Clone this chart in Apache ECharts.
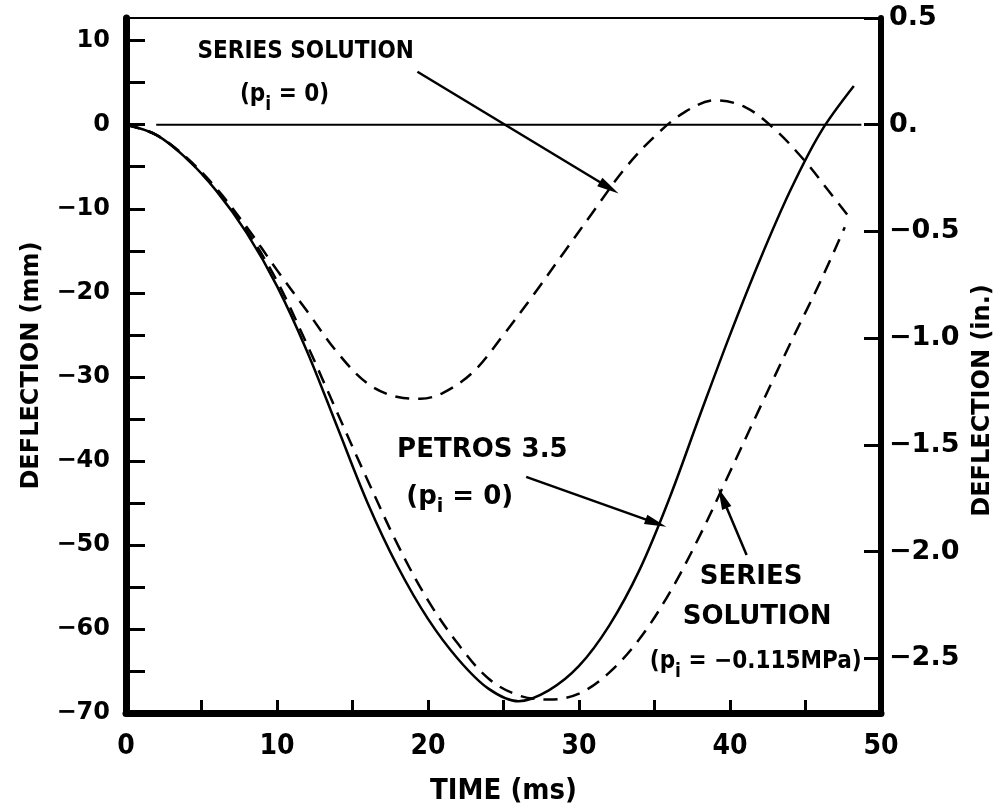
<!DOCTYPE html>
<html>
<head>
<meta charset="utf-8">
<script src="https://cdn.jsdelivr.net/npm/echarts@6/dist/echarts.min.js"></script>
<style>
  html, body { margin: 0; padding: 0; background: #fff; }
  #chart { width: 993px; height: 810px; }
</style>
</head>
<body>
<div id="chart"></div>
<script>
// values: time in ms, deflection in mm
const petrosTime = [0, 2, 4, 6, 8, 10, 12, 14, 16, 18, 20, 22, 24, 26, 28, 30, 32, 34, 36, 38, 40, 42, 44, 46, 48.2];
const petrosDefl = [0, -1.2, -4.0, -7.9, -12.9, -19.2, -27.0, -36.0, -45.0, -52.6, -58.8, -63.6, -67.1, -68.6, -67.3, -64.4, -59.6, -53.0, -44.4, -34.6, -25.0, -16.0, -7.8, -0.9, 4.6];

const seriesZeroTime = [0, 2, 4, 6, 8, 10, 12, 14, 16, 18, 19.5, 21, 23, 25, 27, 29, 31, 33, 35, 37, 39, 41, 43, 45, 46.5, 47.9];
const seriesZeroDefl = [0, -1.2, -3.9, -7.6, -12.2, -17.3, -22.2, -27.1, -30.8, -32.4, -32.6, -31.9, -29.4, -25.0, -20.2, -15.2, -10.2, -5.3, -1.4, 1.5, 2.9, 2.1, -0.6, -4.4, -7.8, -11.0];

const seriesNegTime = [0, 2, 4, 6, 8, 10, 12, 14, 16, 18, 20, 22, 24, 26, 28, 30, 32, 34, 36, 38, 40, 42, 44, 46, 47.6];
const seriesNegDefl = [0, -1.2, -4.0, -7.8, -12.6, -18.6, -26.2, -34.3, -42.3, -50.0, -56.6, -61.8, -65.9, -67.9, -68.4, -67.7, -65.2, -61.2, -55.7, -48.9, -41.3, -33.6, -26.0, -18.6, -12.2];

const zeroLineTime = [2.0, 48.7];
const zeroLineDefl = [0, 0];

// tick labels
const timeTicks = [0, 5, 10, 15, 20, 25, 30, 35, 40, 45, 50];
const timeLabels = [0, 10, 20, 30, 40, 50];
const mmTicks = [-70, -65, -60, -55, -50, -45, -40, -35, -30, -25, -20, -15, -10, -5, 0, 5, 10];
const mmLabels = [-70, -60, -50, -40, -30, -20, -10, 0, 10];
const inchLabels = [-2.5, -2.0, -1.5, -1.0, -0.5, 0, 0.5];

const MM_PER_INCH = 25.4;
const yMin = -70;
const yMax = 0.5 * MM_PER_INCH;

const zip = (xs, ys) => xs.map((x, i) => [x, ys[i]]);
const minus = s => String(s).replace('-', '\u2212');

const dash = [14, 9];

// arrows: [from, to] in data coordinates
const arrows = [
  [[19.3, 6.3], [32.0, -7.5]],
  [[26.5, -41.9], [35.1, -47.4]],
  [[41.1, -51.2], [39.5, -44.4]]
];

// text notes in data coordinates
const notes = [
  { t: 11.9, v: 8.7, text: 'SERIES SOLUTION', condensed: true },
  { t: 10.5, v: 3.6, text: '(p{s|i} = 0)', condensed: true },
  { t: 23.6, v: -38.7, text: 'PETROS 3.5' },
  { t: 22.1, v: -44.3, text: '(p{s|i} = 0)' },
  { t: 41.4, v: -53.9, text: 'SERIES' },
  { t: 41.8, v: -58.6, text: 'SOLUTION' },
  { t: 41.7, v: -63.9, text: '(p{s|i} = \u22120.115MPa)', condensed: true }
];

const chart = echarts.init(document.getElementById('chart'));

const option = {
  animation: false,
  backgroundColor: '#fff',
  grid: {
    left: 126, right: 112, top: 18, bottom: 97,
    outerBoundsMode: 'none', containLabel: false,
    show: true, borderColor: '#000', borderWidth: 2
  },
  xAxis: {
    type: 'value', min: 0, max: 50,
    name: 'TIME (ms)', nameLocation: 'middle', nameGap: 64,
    nameTextStyle: { fontFamily: 'DejaVu Sans Condensed', fontWeight: 'bold', fontSize: 29, color: '#000' },
    axisLine: { onZero: false, lineStyle: { color: '#000', width: 7 } },
    axisTick: { inside: true, length: 13, lineStyle: { color: '#000', width: 3 }, customValues: timeTicks },
    axisLabel: {
      customValues: timeLabels, margin: 20,
      fontFamily: 'DejaVu Sans Condensed', fontWeight: 'bold', fontSize: 28, color: '#000'
    },
    splitLine: { show: false }
  },
  yAxis: [
    {
      type: 'value', position: 'left', min: yMin, max: yMax,
      name: 'DEFLECTION (mm)', nameLocation: 'middle', nameRotate: 90, nameGap: 82,
      nameTextStyle: { fontFamily: 'DejaVu Sans', fontWeight: 'bold', fontSize: 24, color: '#000' },
      axisLine: { show: true, onZero: false, lineStyle: { color: '#000', width: 7 } },
      axisTick: { show: true, inside: true, length: 19, lineStyle: { color: '#000', width: 3 }, customValues: mmTicks },
      axisLabel: {
        customValues: mmLabels, margin: 16, formatter: v => minus(v),
        fontFamily: 'DejaVu Sans', fontWeight: 'bold', fontSize: 24, color: '#000'
      },
      splitLine: { show: false }
    },
    {
      type: 'value', position: 'right', min: yMin / MM_PER_INCH, max: 0.5,
      name: 'DEFLECTION (in.)', nameLocation: 'middle', nameRotate: 90, nameGap: 76,
      nameTextStyle: { fontFamily: 'DejaVu Sans', fontWeight: 'bold', fontSize: 24, color: '#000', padding: [0, 70, 0, 0] },
      axisLine: { show: true, onZero: false, lineStyle: { color: '#000', width: 6 } },
      axisTick: { show: true, inside: true, length: 17, lineStyle: { color: '#000', width: 3 }, customValues: inchLabels },
      axisLabel: {
        customValues: inchLabels, margin: 8,
        formatter: v => (v === 0 ? '0.' : minus(v.toFixed(1))),
        fontFamily: 'DejaVu Sans', fontWeight: 'bold', fontSize: 27, color: '#000'
      },
      splitLine: { show: false }
    }
  ],
  series: [
    {
      name: 'PETROS 3.5 (pi = 0)', type: 'line', data: zip(petrosTime, petrosDefl),
      showSymbol: false, smooth: 0.35, lineStyle: { color: '#000', width: 2.5 }
    },
    {
      name: 'Series solution (pi = 0)', type: 'line', data: zip(seriesZeroTime, seriesZeroDefl),
      showSymbol: false, smooth: 0.35, lineStyle: { color: '#000', width: 2.5, type: dash }
    },
    {
      name: 'Series solution (pi = -0.115 MPa)', type: 'line', data: zip(seriesNegTime, seriesNegDefl),
      showSymbol: false, smooth: 0.35, lineStyle: { color: '#000', width: 2.5, type: dash }
    },
    {
      name: 'zero', type: 'line', data: zip(zeroLineTime, zeroLineDefl),
      showSymbol: false, lineStyle: { color: '#000', width: 2.2 },
      markLine: {
        silent: true,
        label: { show: false },
        lineStyle: { color: '#000', width: 2.5, type: 'solid' },
        data: arrows.map(a => [
          { coord: a[0], symbol: 'none' },
          { coord: a[1], symbol: 'triangle', symbolSize: [10, 22] }
        ])
      }
    }
  ]
};

chart.setOption(option);

chart.setOption({
  graphic: notes.map(n => {
    const p = chart.convertToPixel({ xAxisIndex: 0, yAxisIndex: 0 }, [n.t, n.v]);
    const family = n.condensed ? 'DejaVu Sans Condensed' : 'DejaVu Sans';
    return {
      type: 'text', x: p[0], y: p[1], silent: true,
      style: {
        text: n.text, fill: '#000',
        fontFamily: family, fontWeight: 'bold', fontSize: n.condensed ? 24 : 26,
        align: 'center', verticalAlign: 'middle', lineHeight: 40,
        rich: {
          s: { fontFamily: family, fontWeight: 'bold', fontSize: 19, lineHeight: 18, verticalAlign: 'bottom', fill: '#000' }
        }
      }
    };
  })
});
</script>
</body>
</html>
